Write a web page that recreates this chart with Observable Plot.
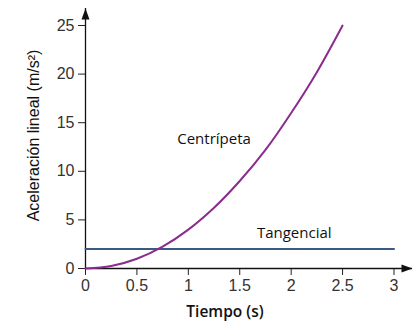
<!DOCTYPE html>
<html>
<head>
<meta charset="utf-8">
<script src="https://cdn.jsdelivr.net/npm/d3@7"></script>
<script src="https://cdn.jsdelivr.net/npm/@observablehq/plot@0.6"></script>
<style>
  html, body { margin: 0; padding: 0; background: #fff; }
  #chart svg { display: block; }
</style>
</head>
<body>
<div id="chart"></div>
<script>
// Data
const time = [0, 0.25, 0.5, 0.75, 1, 1.25, 1.5, 1.75, 2, 2.25, 2.5];
const centripeta = [0, 0.25, 1, 2.25, 4, 6.25, 9, 12.2, 16, 20.2, 25];
const tangTime = [0, 3];
const tangencial = [2, 2];
const xTicks = [0, 0.5, 1, 1.5, 2, 2.5, 3];
const xTickLabels = ["0", "0.5", "1", "1.5", "2", "2.5", "3"];
const yTicks = [0, 5, 10, 15, 20, 25];
const seriesNames = ["Centrípeta", "Tangencial"];
const seriesLabelX = [1.25, 2.03];
const seriesLabelY = [13.3, 3.6];
const xLabel = "Tiempo (s)";
const yLabel = "Aceleración lineal (m/s²)";
const xMax = 3.18;   // end of x-axis arrow
const yMax = 26.75;  // end of y-axis arrow

const centData = time.map((t, i) => ({t, a: centripeta[i]}));
const tangData = tangTime.map((t, i) => ({t, a: tangencial[i]}));
const labelData = seriesNames.map((name, i) => ({name, x: seriesLabelX[i], y: seriesLabelY[i]}));

const labelFont = "'Open Sans', Lato, sans-serif";

const chart = Plot.plot({
  width: 420,
  height: 332,
  marginLeft: 85,
  marginRight: 8,
  marginTop: 8,
  marginBottom: 64,
  style: {fontFamily: "'Liberation Sans', Arial, sans-serif", fontSize: "16px", color: "#333", background: "#fff"},
  x: {domain: [0, xMax]},
  y: {domain: [0, yMax]},
  marks: [
    Plot.axisX({ticks: xTicks, tickFormat: (d, i) => xTickLabels[i], tickSize: 7, tickPadding: 4, label: null, fontSize: 16, stroke: "#222"}),
    Plot.axisY({ticks: yTicks, tickSize: 7, tickPadding: 4, label: null, fontSize: 16, stroke: "#222"}),
    Plot.ruleY([0], {x1: 0, x2: xMax, stroke: "#111", strokeWidth: 1.3}),
    Plot.ruleX([0], {y1: 0, y2: yMax, stroke: "#111", strokeWidth: 1.3}),
    Plot.vector([0], {x: 0, y: yMax, shape: "spike", length: 11, r: 4, rotate: 0, anchor: "end", fill: "#111", stroke: "none"}),
    Plot.vector([0], {x: xMax, y: 0, shape: "spike", length: 11, r: 4, rotate: 90, anchor: "end", fill: "#111", stroke: "none"}),
    Plot.line(tangData, {x: "t", y: "a", stroke: "#3b5a82", strokeWidth: 2}),
    Plot.line(centData, {x: "t", y: "a", stroke: "#8a2b8d", strokeWidth: 2, curve: "catmull-rom"}),
    Plot.text(labelData, {x: "x", y: "y", text: "name", fontFamily: labelFont, fontSize: 15, fill: "#111"}),
    Plot.text([xLabel], {frameAnchor: "bottom", dx: -24, dy: 48, fontFamily: labelFont, fontWeight: 600, fontSize: 15.5, fill: "#111"}),
    Plot.text([yLabel], {frameAnchor: "left", textAnchor: "middle", dx: -52, dy: -3, rotate: -90, fontSize: 16, fill: "#111"})
  ]
});
document.getElementById("chart").appendChild(chart);
</script>
</body>
</html>
